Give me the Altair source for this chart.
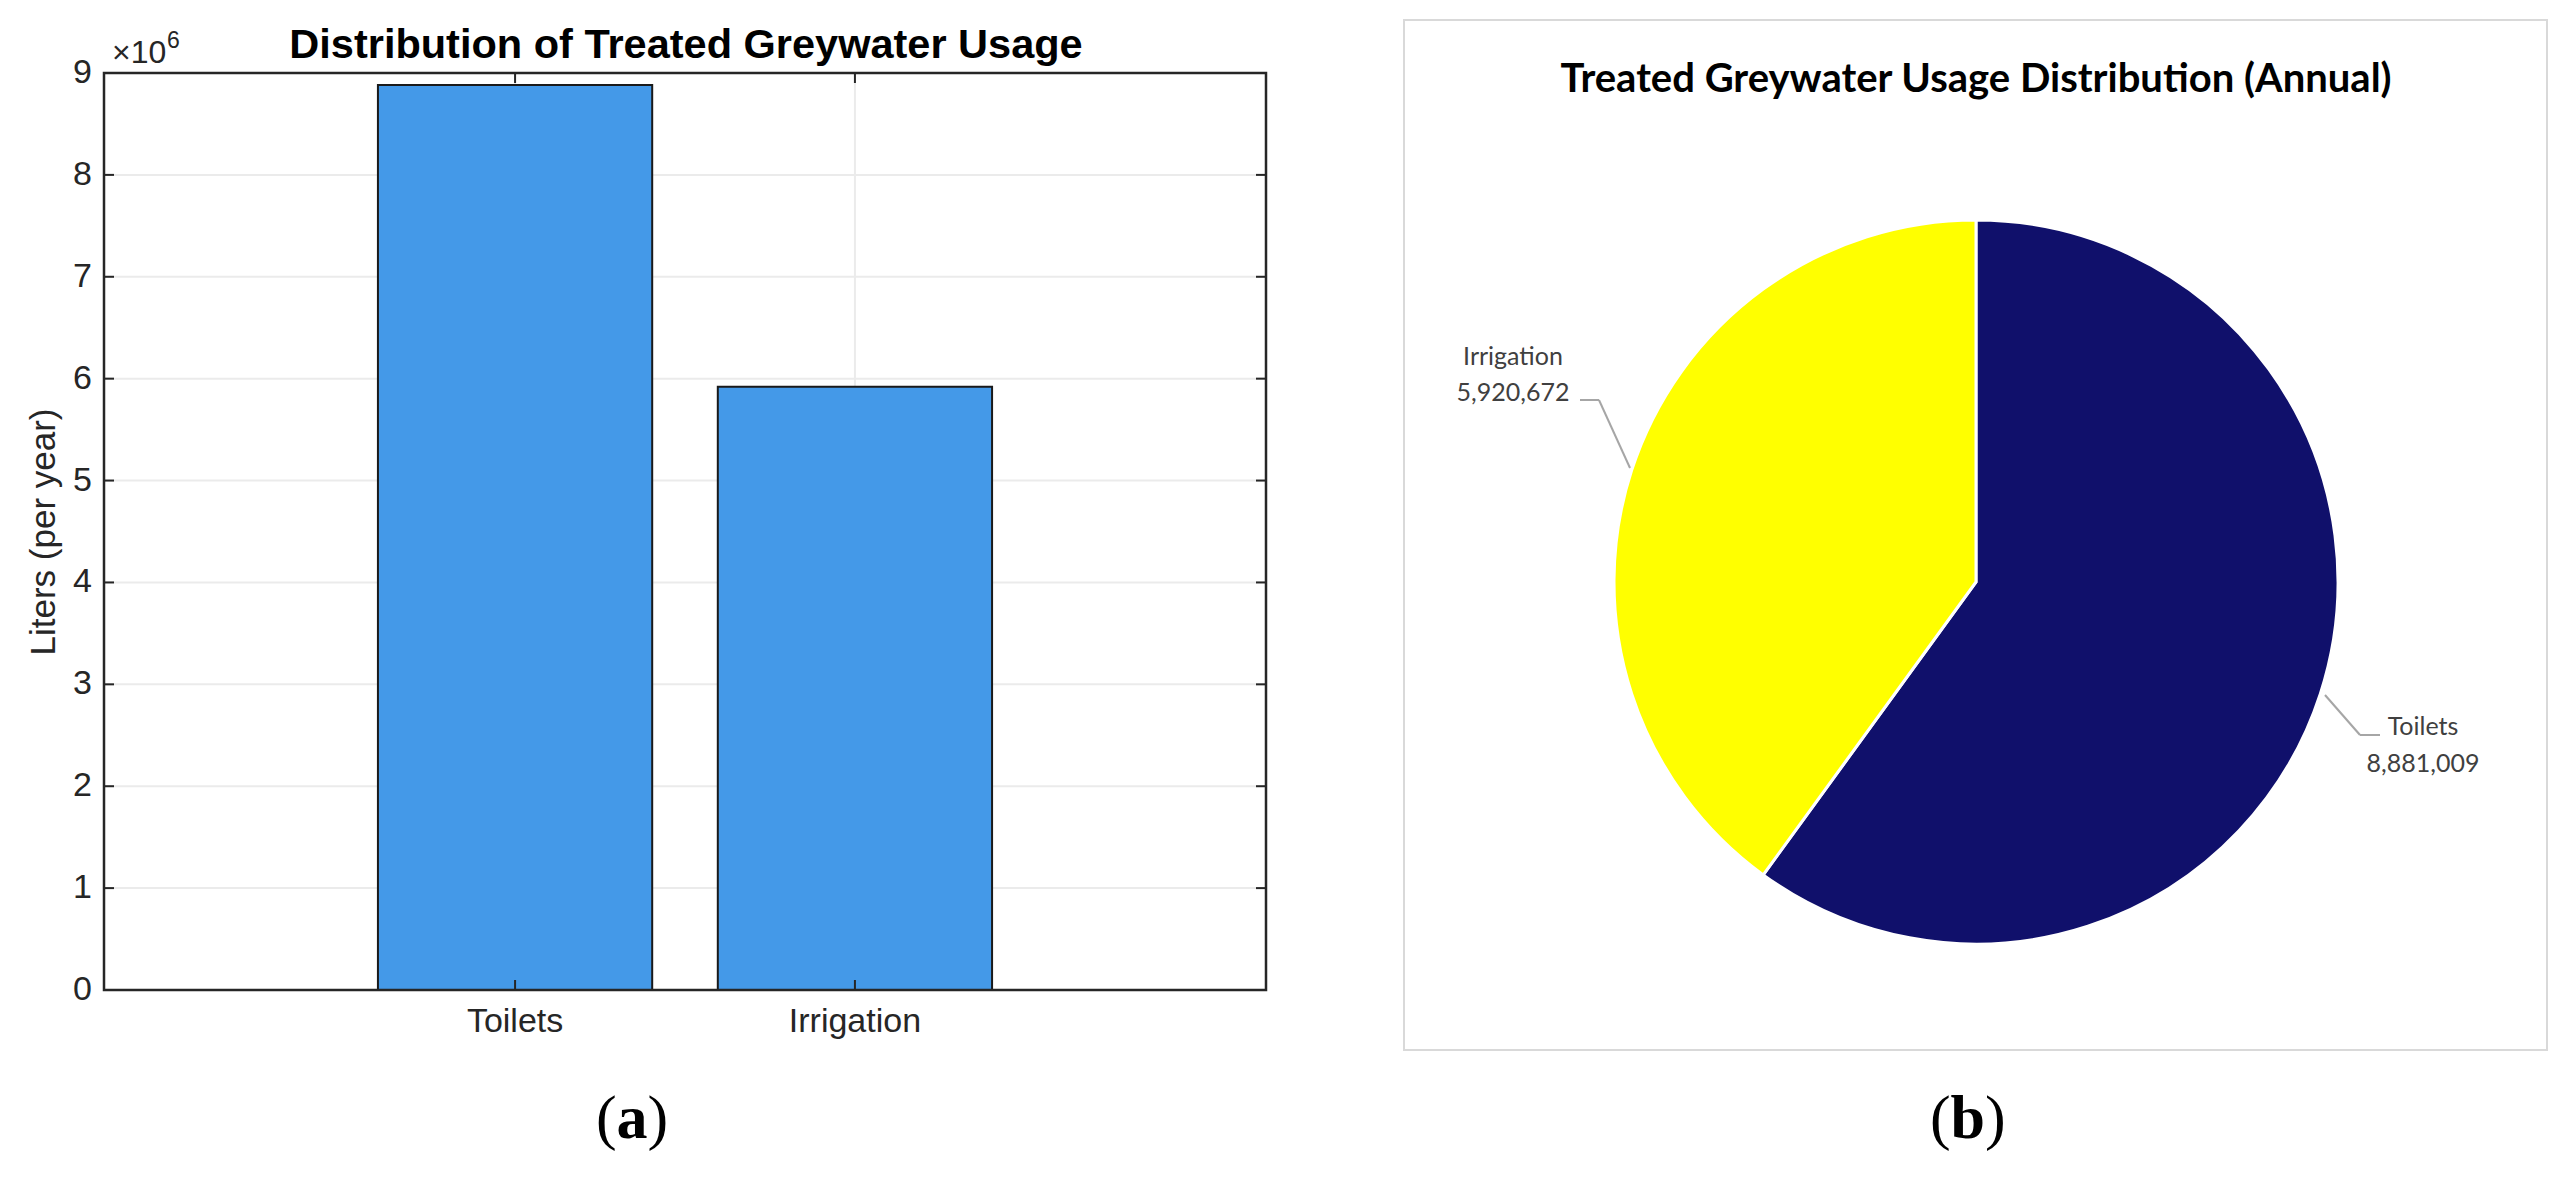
import altair as alt
import pandas as pd

# ---------------- data ----------------
categories = ["Toilets", "Irrigation"]
usage_liters = [8881009, 5920672]
y_ticks = [0, 1, 2, 3, 4, 5, 6, 7, 8, 9]          # x 10^6
grid_ticks = [1, 2, 3, 4, 5, 6, 7, 8]
pie_order = [0, 1]

bar_df = pd.DataFrame({"Category": categories, "Value": usage_liters})
pie_df = pd.DataFrame({"Category": categories, "Value": usage_liters, "Order": pie_order})
tick_df = pd.DataFrame({"Tick": y_ticks})
grid_df = pd.DataFrame({"Tick": grid_ticks})
cat_df = pd.DataFrame({"Category": categories})

# ---------------- layout (group coords; page margin 8px) ----------------
W, H = 2553, 1161
PL, PR, PT, PB = 96, 1258, 65, 982
AX = "#262626"
SANS = "Liberation Sans, Arial, Helvetica"

x_scale = alt.Scale(domain=categories, range=[PL, PR], paddingInner=0.193, paddingOuter=0.806)
y_scale = alt.Scale(domain=[0, 9], range=[PB, PT], nice=False, zero=True)


def txt(text, x, y, size, font=SANS, weight="normal", color="#000000", align="center",
        baseline="alphabetic", angle=0):
    return alt.Chart(pd.DataFrame({"t": [text]})).mark_text(
        align=align, baseline=baseline, font=font, fontSize=size,
        fontWeight=weight, color=color, angle=angle
    ).encode(text="t:N", x=alt.value(x), y=alt.value(y))


# ---- left panel: bar chart ----
hgrid = alt.Chart(grid_df).mark_rule(color="#ebebeb", strokeWidth=2).encode(
    y=alt.Y("Tick:Q", scale=y_scale, axis=None),
    x=alt.value(PL), x2=alt.value(PR))

vgrid = alt.Chart(cat_df).mark_rule(color="#ebebeb", strokeWidth=2).encode(
    x=alt.X("Category:N", scale=x_scale, axis=None),
    y=alt.value(PT), y2=alt.value(PB))

bars = alt.Chart(bar_df).transform_calculate(
    M="datum.Value / 1000000"
).mark_bar(fill="#4499E8", stroke="#1a1a1a", strokeWidth=2).encode(
    x=alt.X("Category:N", scale=x_scale, axis=None),
    y=alt.Y("M:Q", scale=y_scale, axis=None),
)

frame_left = alt.Chart(cat_df.head(1)).mark_rect(
    fill="white", fillOpacity=0, stroke=AX, strokeWidth=2.5
).encode(x=alt.value(PL), x2=alt.value(PR), y=alt.value(PT), y2=alt.value(PB))

yt_left = alt.Chart(tick_df).mark_rule(color=AX, strokeWidth=2).encode(
    y=alt.Y("Tick:Q", scale=y_scale, axis=None), x=alt.value(PL), x2=alt.value(PL + 10))
yt_right = alt.Chart(tick_df).mark_rule(color=AX, strokeWidth=2).encode(
    y=alt.Y("Tick:Q", scale=y_scale, axis=None), x=alt.value(PR - 10), x2=alt.value(PR))
xt_bottom = alt.Chart(cat_df).mark_rule(color=AX, strokeWidth=2).encode(
    x=alt.X("Category:N", scale=x_scale, axis=None), y=alt.value(PB - 10), y2=alt.value(PB))
xt_top = alt.Chart(cat_df).mark_rule(color=AX, strokeWidth=2).encode(
    x=alt.X("Category:N", scale=x_scale, axis=None), y=alt.value(PT), y2=alt.value(PT + 10))

# axis tick labels drawn through the scales
ylabels = alt.Chart(tick_df).mark_text(
    align="right", baseline="middle", font=SANS, fontSize=34, color=AX
).encode(y=alt.Y("Tick:Q", scale=y_scale, axis=None), x=alt.value(PL - 12), text="Tick:Q")
xlabels = alt.Chart(cat_df).mark_text(
    align="center", baseline="alphabetic", font=SANS, fontSize=34, color=AX
).encode(x=alt.X("Category:N", scale=x_scale, axis=None), y=alt.value(PB + 42), text="Category:N")

ytitle = txt("Liters (per year)", 36, 524, 35, color=AX, baseline="middle", angle=270)
title_left = txt("Distribution of Treated Greywater Usage", 678, 50, 41.5, weight="bold")
exp_base = txt("×10", 104, 55, 32, color=AX, align="left")
exp_pow = txt("6", 159, 40, 23, color=AX, align="left")

# ---- right panel: pie chart ----
CX, CY, R = 1968, 574, 362
frame_right = alt.Chart(cat_df.head(1)).mark_rect(
    fill="white", fillOpacity=0, stroke="#d9d9d9", strokeWidth=2
).encode(x=alt.value(1396), x2=alt.value(2539), y=alt.value(12), y2=alt.value(1042))

pie = alt.Chart(pie_df).mark_arc(radius=R, stroke="white", strokeWidth=3).encode(
    theta=alt.Theta("Value:Q", stack=True),
    color=alt.Color("Category:N", scale=alt.Scale(domain=categories, range=["#10106B", "#FFFF00"]),
                    legend=None),
    order=alt.Order("Order:Q"),
    x=alt.value(CX), y=alt.value(CY),
)

title_right = txt("Treated Greywater Usage Distribution (Annual)", 1968, 84, 40,
                  font="Lato", weight="bold")

LBL = "#404040"
LFONT = "Lato"


def pie_label(cat, x, y_name, y_val):
    base = alt.Chart(pie_df).transform_filter(alt.datum.Category == cat)
    name = base.mark_text(align="center", baseline="alphabetic", font=LFONT, fontSize=25,
                          color=LBL).encode(text="Category:N", x=alt.value(x), y=alt.value(y_name))
    val = base.mark_text(align="center", baseline="alphabetic", font=LFONT, fontSize=25,
                         color=LBL).encode(text=alt.Text("Value:Q", format=","),
                                           x=alt.value(x), y=alt.value(y_val))
    return [name, val]


def seg(x1, y1, x2, y2):
    return alt.Chart(cat_df.head(1)).mark_rule(color="#a6a6a6", strokeWidth=2).encode(
        x=alt.value(x1), y=alt.value(y1), x2=alt.value(x2), y2=alt.value(y2))


leaders = [
    seg(1572, 392, 1591, 392), seg(1591, 392, 1622, 460),
    seg(2317, 687, 2352, 727), seg(2352, 727, 2372, 727),
]

labels = pie_label("Irrigation", 1505, 357, 393) + pie_label("Toilets", 2415, 727, 764)

# ---- captions ----
SERIF = "Liberation Serif, Times New Roman"
CAP_Y, CAP_S = 1130, 62
cap_a = [txt("(", 588, CAP_Y, CAP_S, font=SERIF, align="left"),
         txt("a", 608.6, CAP_Y, CAP_S, font=SERIF, weight="bold", align="left"),
         txt(")", 639.6, CAP_Y, CAP_S, font=SERIF, align="left")]
cap_b = [txt("(", 1922, CAP_Y, CAP_S, font=SERIF, align="left"),
         txt("b", 1942.6, CAP_Y, CAP_S, font=SERIF, weight="bold", align="left"),
         txt(")", 1977, CAP_Y, CAP_S, font=SERIF, align="left")]

chart = alt.layer(
    hgrid, vgrid, bars, frame_left, yt_left, yt_right, xt_bottom, xt_top,
    ylabels, xlabels, ytitle, title_left, exp_base, exp_pow,
    frame_right, pie, title_right, *leaders, *labels, *cap_a, *cap_b
).properties(
    width=W, height=H, autosize=alt.AutoSizeParams(type="none"), padding=0,
    background="white"
).configure_view(stroke=None)

chart.save("out.html", embed_options={"renderer": "svg", "actions": False})
